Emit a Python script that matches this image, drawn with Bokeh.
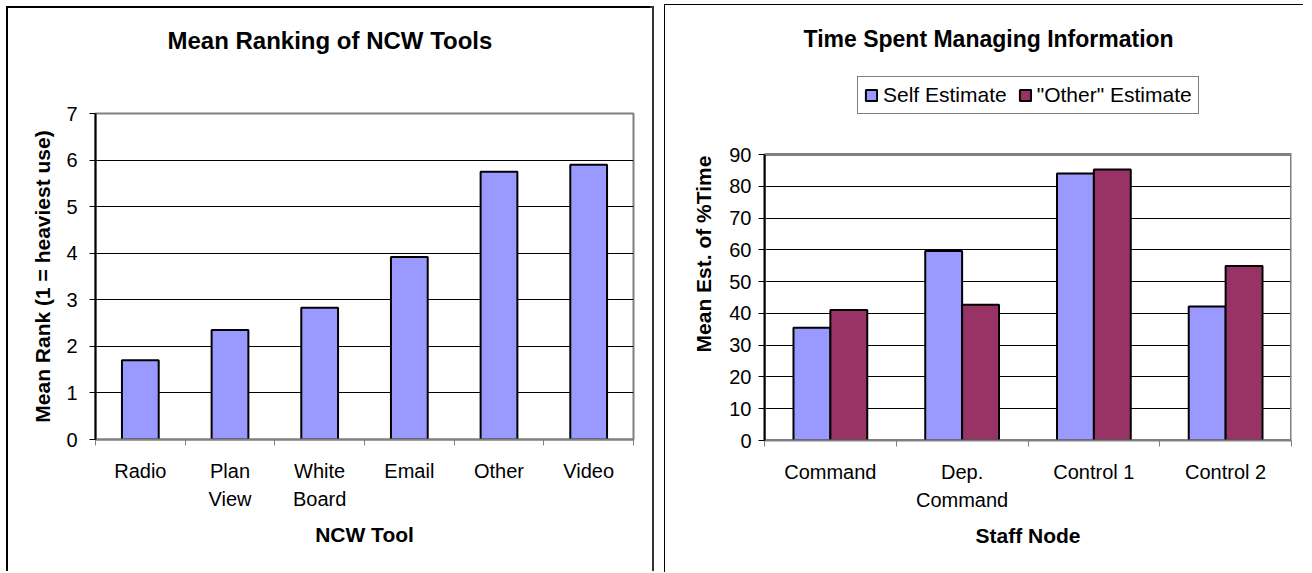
from bokeh.plotting import figure
from bokeh.models import Range1d, FixedTicker, Legend, LegendItem, Title, BoxAnnotation
from bokeh.layouts import row
from bokeh.embed import file_html
from bokeh.resources import INLINE

# ---------------- data ----------------
tools = ["Radio", "Plan\nView", "White\nBoard", "Email", "Other", "Video"]
mean_rank = [1.70, 2.35, 2.83, 3.92, 5.75, 5.90]
rank_ticks = [0, 1, 2, 3, 4, 5, 6, 7]

nodes = ["Command", "Dep.\nCommand", "Control 1", "Control 2"]
self_estimate = [35.5, 59.6, 84.0, 42.2]
other_estimate = [41.1, 42.7, 85.3, 54.9]
time_ticks = [0, 10, 20, 30, 40, 50, 60, 70, 80, 90]

FONT = "Liberation Sans"
BLUE = "#9999FF"
MAROON = "#993366"
GREY = "#808080"


def style_axes(p, n_cats, labels, yticks, xlabel, ylabel, y_std, y_lab_std):
    centers = [i + 0.5 for i in range(n_cats)]
    bounds = list(range(n_cats + 1))
    xt = FixedTicker(ticks=centers, minor_ticks=bounds)
    yt = FixedTicker(ticks=yticks, minor_ticks=[])
    p.xaxis.ticker = xt
    p.yaxis.ticker = yt
    p.ygrid.ticker = yt
    p.xgrid.visible = False
    p.ygrid.grid_line_color = "black"
    p.ygrid.grid_line_width = 1
    p.xaxis.major_label_overrides = dict(zip(centers, labels))

    for ax in (p.xaxis, p.yaxis):
        ax.major_label_text_font = FONT
        ax.major_label_text_font_size = "20px"
        ax.major_label_text_color = "black"
        ax.axis_label_text_font = FONT
        ax.axis_label_text_font_size = "21px"
        ax.axis_label_text_font_style = "bold"
        ax.axis_label_text_color = "black"
        ax.major_tick_in = 0
        ax.minor_tick_in = 0

    p.xaxis.axis_label = xlabel
    p.xaxis.axis_line_color = GREY
    p.xaxis.axis_line_width = 2
    p.xaxis.major_tick_out = 0
    p.xaxis.minor_tick_out = 6
    p.xaxis.minor_tick_line_color = GREY
    p.xaxis.minor_tick_line_width = 1
    p.xaxis.major_label_standoff = 14
    p.xaxis.major_label_text_line_height = 1.3
    p.xaxis.axis_label_standoff = 10

    p.yaxis.axis_label = ylabel
    p.yaxis.axis_line_color = "black"
    p.yaxis.axis_line_width = 2
    p.yaxis.major_tick_out = 6
    p.yaxis.minor_tick_out = 0
    p.yaxis.major_tick_line_color = "black"
    p.yaxis.major_label_standoff = y_std
    p.yaxis.axis_label_standoff = y_lab_std

    p.outline_line_color = GREY
    p.outline_line_width = 2
    p.background_fill_color = "white"
    p.border_fill_color = "white"
    p.frame_align = False


def chart_title(text, size, offset, standoff):
    return Title(text=text, align="left", offset=offset, text_font=FONT, text_font_size=size,
                 text_font_style="bold", text_color="black", standoff=standoff)


def spacer(standoff):
    return Title(text=" ", text_font_size="1px", standoff=standoff)


# ---------------- left chart ----------------
p1 = figure(width=644, height=565, x_range=Range1d(0, len(tools)), y_range=Range1d(0, 7),
            output_backend="svg", toolbar_location=None, title=None,
            min_border_left=87, min_border_right=19, min_border_top=105, min_border_bottom=134)
p1.vbar(x=[i + 0.5 for i in range(len(tools))], top=mean_rank, width=0.41,
        fill_color=BLUE, line_color="black", line_width=2)
style_axes(p1, len(tools), tools, rank_ticks, "NCW Tool", "Mean Rank (1 = heaviest use)", 12, 9)
p1.add_layout(spacer(43), "above")
p1.add_layout(chart_title("Mean Ranking of NCW Tools", "24px", 72, 28), "above")
p1.margin = (3, 0, 0, 0)
p1.styles = {"box-shadow": "-2px -2px 0 0 #000, 2px -2px 0 0 #333"}

# ---------------- right chart ----------------
# the frame reaches up to hold the legend; the plot area (0..90) is outlined separately
R_H, R_TOP, R_BOTTOM, R_90 = 568, 62, 435, 149
y_top = time_ticks[-1] * (R_BOTTOM - R_TOP) / (R_BOTTOM - R_90)
p2 = figure(width=639, height=R_H, x_range=Range1d(0, len(nodes)), y_range=Range1d(0, y_top),
            output_backend="svg", toolbar_location=None, title=None,
            min_border_left=99, min_border_right=13, min_border_top=R_TOP,
            min_border_bottom=R_H - R_BOTTOM)
r_self = p2.vbar(x=[i + 0.5 - 0.14 for i in range(len(nodes))], top=self_estimate, width=0.28,
                 fill_color=BLUE, line_color="black", line_width=2)
r_other = p2.vbar(x=[i + 0.5 + 0.14 for i in range(len(nodes))], top=other_estimate, width=0.28,
                  fill_color=MAROON, line_color="black", line_width=2)
style_axes(p2, len(nodes), nodes, time_ticks, "Staff Node", "Mean Est. of %Time", 7, 11)
p2.outline_line_color = None
p2.yaxis.bounds = (time_ticks[0], time_ticks[-1])
p2.add_layout(BoxAnnotation(left=0, right=len(nodes), bottom=time_ticks[0], top=time_ticks[-1],
                            fill_color=None, fill_alpha=0, line_color=GREY, line_alpha=1,
                            line_width=3, level="underlay"))
legend = Legend(items=[LegendItem(label="Self Estimate", renderers=[r_self]),
                       LegendItem(label='"Other" Estimate', renderers=[r_other])],
                orientation="horizontal", location=(93, R_BOTTOM - 109),
                border_line_color="black", border_line_width=1,
                background_fill_color="white", background_fill_alpha=1,
                padding=6, spacing=11, label_standoff=5, margin=0,
                glyph_width=14, glyph_height=14, label_height=22,
                label_text_font=FONT, label_text_font_size="21px", label_text_color="black")
p2.add_layout(legend)
p2.add_layout(chart_title("Time Spent Managing Information", "23px", 39, 32), "above")
p2.styles = {"box-shadow": "-1px -1px 0 0 #000"}

layout = row(p1, p2, spacing=13)
layout.margin = (5, 0, 0, 8)
open("out.html", "w").write(file_html(layout, INLINE))
